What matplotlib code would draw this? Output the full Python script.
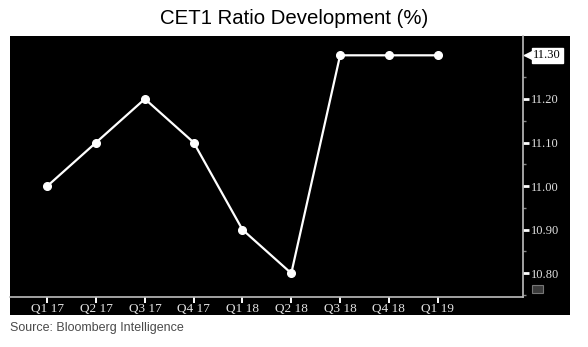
import matplotlib
matplotlib.use('agg')
from matplotlib import pyplot as plt
from matplotlib.patches import Rectangle
from matplotlib.ticker import MultipleLocator
import matplotlib.transforms as mtransforms

quarters = ["Q1 17", "Q2 17", "Q3 17", "Q4 17", "Q1 18", "Q2 18", "Q3 18", "Q4 18", "Q1 19"]
cet1 = [11.00, 11.10, 11.20, 11.10, 10.90, 10.80, 11.30, 11.30, 11.30]
y_ticks = [10.80, 10.90, 11.00, 11.10, 11.20]

W, H = 588, 347
fg = '#e2e2e2'
tick_font = 'Liberation Serif'

fig = plt.figure(figsize=(W / 100, H / 100), dpi=100)
fig.patch.set_facecolor('white')

# black terminal-style panel behind the axes
fig.add_artist(Rectangle((10 / W, (H - 315) / H), 560 / W, (315 - 36) / H,
                         transform=fig.transFigure, facecolor='black',
                         edgecolor='none', zorder=-5))

ax = fig.add_axes([10 / W, (H - 297) / H, 513 / W, 261 / H])
ax.set_zorder(2)
ax.set_facecolor('black')

x = list(range(len(quarters)))
ax.plot(x, cet1, color='white', lw=1.6, marker='o', ms=5.5,
        markerfacecolor='white', markeredgecolor='white', solid_joinstyle='round')

ax.set_xlim(-0.764, 9.748)
ax.set_ylim(10.7456, 11.3443)

for s in ['left', 'top']:
    ax.spines[s].set_visible(False)
for s in ['bottom', 'right']:
    ax.spines[s].set_color('#bdbdbd')
    ax.spines[s].set_linewidth(1.2)

ax.set_xticks(x)
ax.set_xticklabels(quarters, family=tick_font, fontsize=9.5, color=fg)
ax.tick_params(axis='x', direction='out', length=4, width=1.4, color='white', pad=0)

ax.yaxis.tick_right()
ax.set_yticks(y_ticks)
ax.set_yticklabels([f"{v:.2f}" for v in y_ticks], family=tick_font, fontsize=9, color=fg)
ax.yaxis.set_minor_locator(MultipleLocator(0.05))
ax.tick_params(axis='y', which='major', direction='out', length=4, width=2, color='white', pad=2)
ax.tick_params(axis='y', which='minor', direction='out', length=2, width=1, color='#888888')

# last-value tag on the right axis
trans = mtransforms.blended_transform_factory(ax.transAxes, ax.transData)
ax.plot([1.0 + 6.5 / 513], [cet1[-1]], marker='<', ms=8, color='white',
        transform=trans, clip_on=False)
ax.text(1.02, cet1[-1], f"{cet1[-1]:.2f}", transform=trans, ha='left', va='center',
        family=tick_font, fontsize=9, color='black',
        bbox=dict(boxstyle='square,pad=0.12', facecolor='white', edgecolor='white'))

# small chart-type icon under the axis labels
fig.add_artist(Rectangle((532 / W, (H - 293) / H), 11 / W, 8 / H,
                         transform=fig.transFigure, facecolor='#3a3a3a',
                         edgecolor='#777777', lw=0.8, zorder=3))

fig.text(0.5, (H - 19) / H, "CET1 Ratio Development (%)", ha='center', va='center',
         family='Liberation Sans', fontsize=14.7, color='black')
fig.text(10 / W, (H - 328) / H, "Source: Bloomberg Intelligence", ha='left', va='center',
         family='Liberation Sans', fontsize=9, color='#4a4a4a')

fig.savefig('out.png', dpi=100, facecolor='white')
